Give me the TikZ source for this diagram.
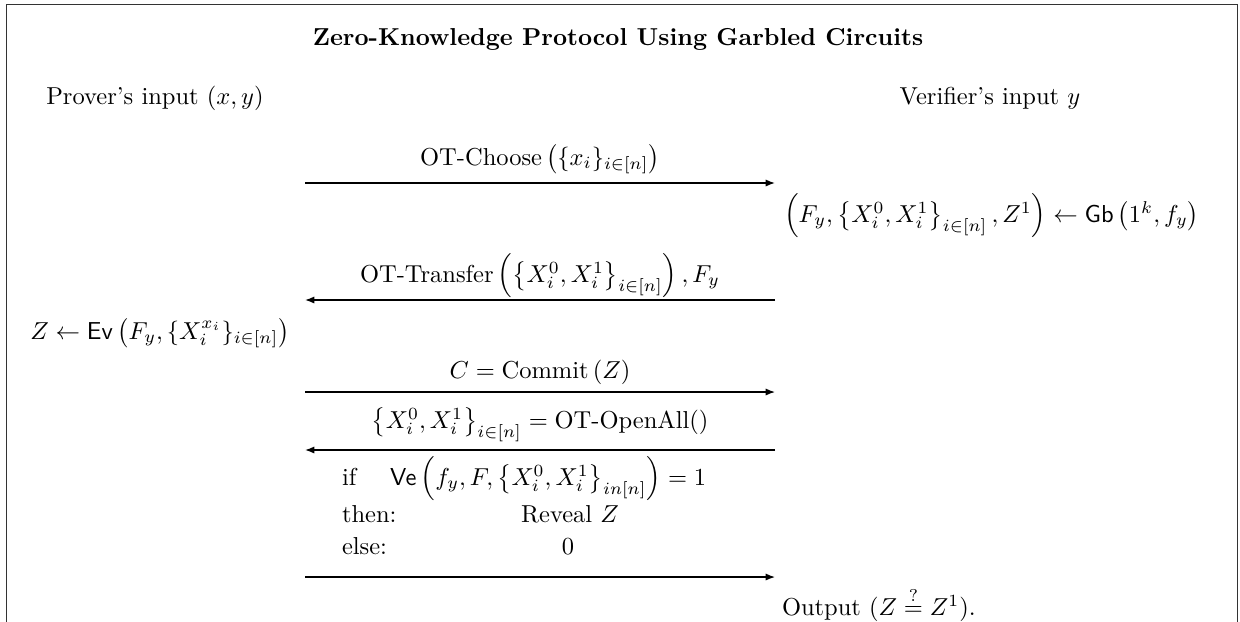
\documentclass[tikz,border=0pt]{standalone}
\usepackage{amsmath,amssymb}
\usetikzlibrary{arrows.meta}
% sized delimiter groups that keep the spacing of \left ... \right
\newcommand{\parB}[1]{\mathinner{\Bigl(#1\Bigr)}}
\newcommand{\parb}[1]{\mathinner{\bigl(#1\bigr)}}
\newcommand{\setb}[1]{\mathinner{\bigl\{#1\bigr\}}}
\begin{document}
\begin{tikzpicture}[x=0.4082pt,y=-0.4082pt,
  txt/.style={inner sep=0pt, outer sep=0pt},
  msg/.style={-{Latex[length=3.8pt,width=2.9pt]}, line width=0.5pt},
  frame/.style={line width=0.55pt, black!80}]
\useasboundingbox (0,0) rectangle (1240,621);
% outer frame (open at the bottom edge)
\draw[frame] (6.5,640) -- (6.5,4.5) -- (1237.5,4.5) -- (1237.5,640);

% heading and the two parties
\node[txt,anchor=base] (title) at (618,45) {\textbf{Zero-Knowledge Protocol Using Garbled Circuits}};
\node[txt,anchor=base] (prover) at (155,104) {Prover's input $(x,y)$};
\node[txt,anchor=base] (verifier) at (990,104) {Verifier's input $y$};

% message 1: prover -> verifier
\coordinate (m1l) at (305,183);
\coordinate (m1r) at (775,183);
\node[txt,anchor=base] (l1) at (540,165)
  {$\text{OT-Choose}\parb{\{x_i\}_{i\in[n]}}$};
\draw[msg] (m1l) -- (m1r);

% verifier garbles
\node[txt,anchor=base west] (gb) at (784,222)
  {$\parB{F_y, \setb{X_i^0, X_i^1}_{i\in[n]}, Z^1} \leftarrow \mathsf{Gb}\parb{1^k, f_y}$};

% message 2: verifier -> prover
\coordinate (m2l) at (305,300);
\coordinate (m2r) at (775,300);
\node[txt,anchor=base] (l2) at (540,282)
  {$\text{OT-Transfer}\parB{\setb{X_i^0, X_i^1}_{i\in[n]}}, F_y$};
\draw[msg] (m2r) -- (m2l);

% prover evaluates
\node[txt,anchor=base] (ev) at (160,339)
  {$Z \leftarrow \mathsf{Ev}\parb{F_y, \{X_i^{x_i}\}_{i\in[n]}}$};

% message 3: commitment
\coordinate (m3l) at (305,392);
\coordinate (m3r) at (775,392);
\node[txt,anchor=base] (l3) at (540,378) {$C = \text{Commit}\left(Z\right)$};
\draw[msg] (m3l) -- (m3r);

% message 4: open all
\coordinate (m4l) at (305,450);
\coordinate (m4r) at (775,450);
\node[txt,anchor=base] (l4) at (540,428)
  {$\setb{X_i^0, X_i^1}_{i\in[n]} = \text{OT-OpenAll}()$};
\draw[msg] (m4r) -- (m4l);

% message 5: conditional reveal
\node[txt,anchor=base west] (cif) at (342,485) {if};
\node[txt,anchor=base west] (cve) at (390,485)
  {$\mathsf{Ve}\parB{f_y, F, \setb{X_i^0, X_i^1}_{in[n]}} = 1$};
\node[txt,anchor=base west] (cthen) at (342,522) {then:};
\node[txt,anchor=base] (creveal) at (570,522) {Reveal $Z$};
\node[txt,anchor=base west] (celse) at (342,554) {else:};
\node[txt,anchor=base] (czero) at (568,554) {0};
\coordinate (m5l) at (305,577);
\coordinate (m5r) at (775,577);
\draw[msg] (m5l) -- (m5r);

% verifier output
\node[txt,anchor=base west] (out) at (782,615) {Output $(Z \stackrel{?}{=} Z^1)$.};
\end{tikzpicture}
\end{document}
